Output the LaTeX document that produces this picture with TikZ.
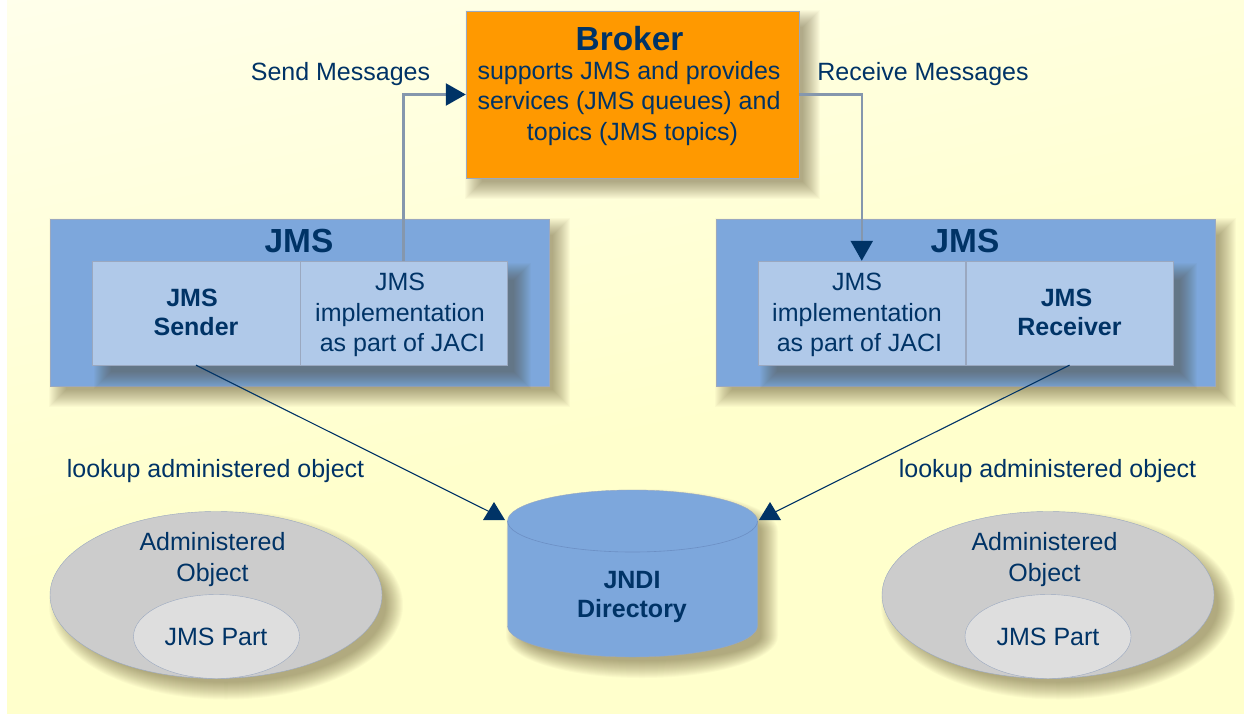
\documentclass[tikz,border=0pt]{standalone}
\usepackage{fontspec}
\setmainfont{Liberation Sans}
\usetikzlibrary{arrows.meta}
\definecolor{navy}{HTML}{003366}
\definecolor{orangebox}{HTML}{FF9900}
\definecolor{bluebox}{HTML}{7DA7DC}
\definecolor{paleblue}{HTML}{B0C9E9}
\definecolor{ellgrey}{HTML}{CCCCCC}
\definecolor{elllight}{HTML}{DEDEDE}
\definecolor{edge}{HTML}{9AA8C0}
\definecolor{cyledge}{HTML}{6C8FC4}
\definecolor{conn}{HTML}{8597AD}
\definecolor{shadowc}{HTML}{4A3A18}
\definecolor{paper}{HTML}{FFFFCC}
\pgfdeclareverticalshading{bgshade}{100bp}{color(0bp)=(paper);color(45bp)=(paper);color(72bp)=(paper!55!white);color(100bp)=(white)}
\newcommand{\softrect}[5][10]{%
  \foreach \d in {-6,-5,...,11}{\fill[shadowc,opacity=0.028] ({#2+#1-\d},{#3+#1-\d}) rectangle ({#4+#1+\d},{#5+#1+\d});}}
\newcommand{\softell}[4]{%
  \foreach \d in {-6,-5,...,11}{\fill[shadowc,opacity=0.028] ({#1+10},{#2+10}) ellipse [x radius={#3+\d},y radius={#4+\d}];}}
\tikzset{
  x=1pt,y=-1pt,
  txt/.style={text=navy,font=\fontsize{25}{30.5}\selectfont,align=center,inner sep=0pt},
  bold/.style={txt,font=\fontsize{25}{29}\selectfont\bfseries},
  title/.style={txt,font=\fontsize{33.4}{36}\selectfont\bfseries},
  outer/.style={draw=edge,line width=0.4pt,fill=bluebox,minimum width=499pt,minimum height=167pt,inner sep=0pt},
  brokerbox/.style={draw=edge,line width=0.4pt,fill=orangebox,minimum width=333pt,minimum height=167pt,inner sep=0pt},
  inbox/.style={draw=edge,line width=0.4pt,fill=paleblue,minimum width=207.5pt,minimum height=104pt,inner sep=0pt},
  flow/.style={draw=conn,line width=2.4pt,-{Triangle[length=20pt,width=22pt,color=navy,fill=navy]}},
  lookupline/.style={draw=navy,line width=1.1pt},
  tip/.style={fill=navy}
}
\begin{document}
\begin{tikzpicture}
\useasboundingbox (0,0) rectangle (1244,715);
\fill[white] (0,0) rectangle (1244,715);
\shade[shading=bgshade,shading angle=12] (7,0) rectangle (1244,713);
% shadows
\softrect{466}{11}{799}{178}
\softrect{50}{219}{549}{386}
\softrect{716}{219}{1215}{386}
\softell{216}{595}{166}{83.5}
\softell{1048}{595}{166}{83.5}
\foreach \d in {-6,-5,...,11}{\fill[shadowc,opacity=0.028] ({507+10-\d},531) arc[start angle=180,end angle=360,x radius={125+\d},y radius={31+\d}] -- ({757+10+\d},636) arc[start angle=0,end angle=180,x radius={125+\d},y radius={31+\d}] -- cycle;}
% boxes
\node[brokerbox] (broker) at (632.5,94.5) {};
\node[title] (brokertitle) at (629.5,39) {Broker};
\node[txt] (brokertext) at (629,103.5) {supports JMS and provides\\services (JMS queues) and\\\hspace*{7pt}topics (JMS topics)};
\node[outer] (jmsL) at (299.5,302.5) {};
\node[outer] (jmsR) at (965.5,302.5) {};
\softrect[13]{92}{261}{507}{365}
\softrect[13]{758}{261}{1173}{365}
\node[title] (jmsLt) at (299,241) {JMS};
\node[title] (jmsRt) at (965,241) {JMS};
\node[inbox] (sender) at (196,313) {};
\node[inbox] (implL) at (403.5,313) {};
\node[inbox] (implR) at (861.75,313) {};
\node[inbox] (receiver) at (1069.5,313) {};
\node[bold] (senderT) at (196,312.5) {\hspace*{-8pt}JMS\\Sender};
\node[txt] (implLT) at (400,315) {JMS\\implementation\\\hspace*{5pt}as part of JACI};
\node[txt] (implRT) at (857,315) {JMS\\implementation\\\hspace*{5pt}as part of JACI};
\node[bold] (receiverT) at (1069.5,312.5) {\hspace*{-6pt}JMS\\Receiver};
% cylinder
\fill[bluebox,draw=edge,line width=0.4pt] (507.5,521) arc[start angle=180,end angle=360,x radius=125,y radius=31] -- (757.5,626) arc[start angle=0,end angle=180,x radius=125,y radius=31] -- cycle;
\draw[cyledge,line width=0.6pt] (507.5,521) arc[start angle=180,end angle=0,x radius=125,y radius=31];
\node[bold] (jndi) at (632,596.5) {JNDI\\Directory};
% ellipses
\draw[edge,line width=0.4pt,fill=ellgrey] (216,595) ellipse[x radius=166,y radius=83.5];
\draw[edge,line width=0.4pt,fill=ellgrey] (1048,595) ellipse[x radius=166,y radius=83.5];
\draw[edge,line width=0.4pt,fill=elllight] (216.5,636.5) ellipse[x radius=83,y radius=42];
\draw[edge,line width=0.4pt,fill=elllight] (1048,636.5) ellipse[x radius=83,y radius=42];
\node[txt] (admL) at (212.5,559.5) {Administered\\Object};
\node[txt] (admR) at (1044.5,559.5) {Administered\\Object};
\node[txt] (partL) at (216,637) {JMS Part};
\node[txt] (partR) at (1048,637) {JMS Part};
% labels
\node[txt] (sendlbl) at (340.5,74.5) {Send Messages};
\node[txt] (recvlbl) at (923,74.5) {Receive Messages};
\node[txt] (lookL) at (215.5,471) {lookup administered object};
\node[txt] (lookR) at (1047.5,471) {lookup administered object};
% connectors
\draw[flow] (implL.north) |- (broker.west);
\draw[flow] (broker.east) -| (implR.north);
\coordinate (endL) at (490,512);
\coordinate (endR) at (775,512);
\draw[lookupline] (sender.south) -- (endL);
\draw[lookupline] (receiver.south) -- (endR);
\fill[tip] (483,520) -- (505,520) -- (494,502) -- cycle;
\fill[tip] (759,520) -- (781,520) -- (770,502) -- cycle;
\end{tikzpicture}
\end{document}
